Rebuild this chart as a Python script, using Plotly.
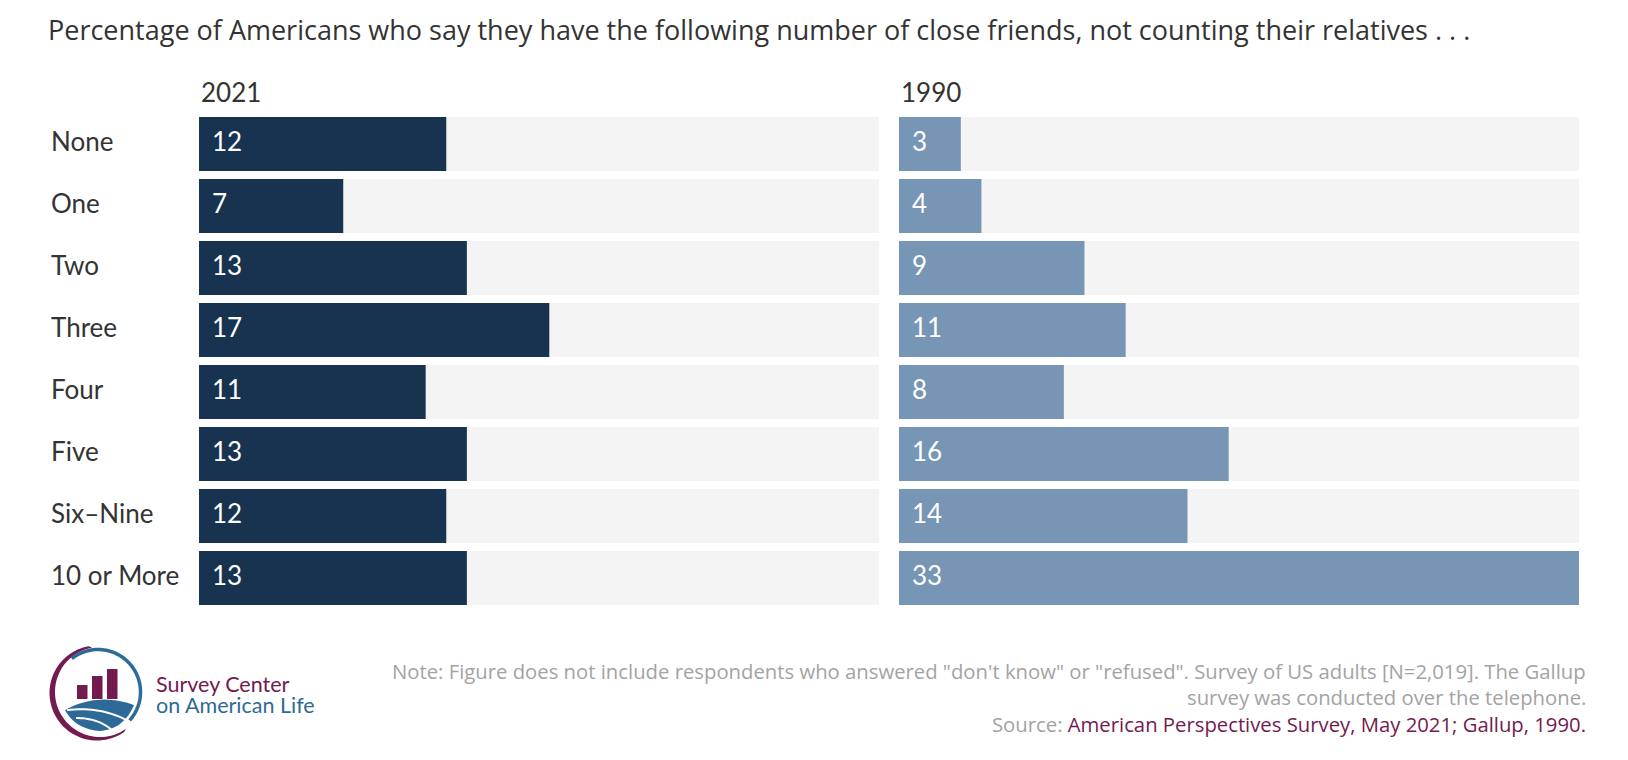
import numpy as np
import plotly.graph_objects as go

# ---------------- data ----------------
categories = ["None", "One", "Two", "Three", "Four", "Five", "Six–Nine", "10 or More"]
values_2021 = [12, 7, 13, 17, 11, 13, 12, 13]
values_1990 = [3, 4, 9, 11, 8, 16, 14, 33]
panel_titles = ["2021", "1990"]

title_text = "Percentage of Americans who say they have the following number of close friends, not counting their relatives . . ."
note_line1 = 'Note: Figure does not include respondents who answered "don\'t know" or "refused". Survey of US adults [N=2,019]. The Gallup'
note_line2 = "survey was conducted over the telephone."
source_label = "Source: "
source_text = "American Perspectives Survey, May 2021; Gallup, 1990."

# ---------------- style ----------------
W, H = 1628, 760
OFF = 8  # default page body margin
FONT = "Lato"
FONT_WIDE = "Open Sans"
DARK = "#17334f"
LIGHT = "#7795b4"
BG = "#f4f4f4"
TXT = "#333333"
NOTE = "#a3a3a3"
MAROON = "#731a4f"
BLUE = "#2e6a97"

def px(x):
    return (x - OFF) / W

def py(y):
    return 1 - (y - OFF) / H

xmax = max(max(values_2021), max(values_1990))

fig = go.Figure()

panels = [
    (values_2021, DARK, "x", "y", (199, 879)),
    (values_1990, LIGHT, "x2", "y2", (899, 1579)),
]

annotations = []
for (vals, col, xa, ya, dom), ptitle in zip(panels, panel_titles):
    fig.add_trace(go.Bar(x=[xmax] * len(categories), y=categories, orientation="h",
                         marker=dict(color=BG, line=dict(width=0)), xaxis=xa, yaxis=ya,
                         hoverinfo="skip", showlegend=False))
    fig.add_trace(go.Bar(x=vals, y=categories, orientation="h",
                         marker=dict(color=col, line=dict(width=0)), xaxis=xa, yaxis=ya,
                         showlegend=False, hovertemplate="%{y}: %{x}<extra></extra>"))
    for c, v in zip(categories, vals):
        annotations.append(dict(x=0, y=c, xref=xa, yref=ya, text=str(v),
                                xanchor="left", yanchor="middle", xshift=11, yshift=3,
                                showarrow=False, font=dict(family=FONT, size=26, color="white")))
    annotations.append(dict(x=px(dom[0]), y=py(92), xref="paper", yref="paper", text=ptitle,
                            xanchor="left", yanchor="middle", showarrow=False,
                            font=dict(family=FONT, size=26, color=TXT)))

# category labels
for c in categories:
    annotations.append(dict(x=px(49), y=c, xref="paper", yref="y", text=c,
                            xanchor="left", yanchor="middle", yshift=3, showarrow=False,
                            font=dict(family=FONT, size=26, color=TXT)))

# notes
annotations += [
    dict(x=px(1588), y=py(671), xref="paper", yref="paper", text=note_line1,
         xanchor="right", yanchor="middle", showarrow=False,
         font=dict(family=FONT_WIDE, size=20.3, color=NOTE)),
    dict(x=px(1588), y=py(697), xref="paper", yref="paper", text=note_line2,
         xanchor="right", yanchor="middle", showarrow=False,
         font=dict(family=FONT_WIDE, size=20.3, color=NOTE)),
    dict(x=px(1588), y=py(724), xref="paper", yref="paper",
         text=f"{source_label}<span style='color:{MAROON}'>{source_text}</span>",
         xanchor="right", yanchor="middle", showarrow=False,
         font=dict(family=FONT_WIDE, size=20.3, color=NOTE)),
    # logo text
    dict(x=px(154), y=py(684), xref="paper", yref="paper", text="Survey Center",
         xanchor="left", yanchor="middle", showarrow=False,
         font=dict(family=FONT, size=21.5, color=MAROON)),
    dict(x=px(154), y=py(705), xref="paper", yref="paper", text="on American Life",
         xanchor="left", yanchor="middle", showarrow=False,
         font=dict(family=FONT, size=21.5, color=BLUE)),
]

# ---------------- logo shapes ----------------
def P(x, y):
    return f"{px(x):.5f},{py(y):.5f}"

def arc_pts(cx, cy, r, a0, a1, n=60):
    th = np.radians(np.linspace(a0, a1, n))
    return [(cx + r*np.cos(t), cy - r*np.sin(t)) for t in th]

def poly_path(points, close=True):
    return "M " + " L ".join(P(x, y) for x, y in points) + (" Z" if close else "")

def quad_pts(p0, p1, p2, n=20):
    t = np.linspace(0, 1, n)
    return [((1-s)**2*p0[0] + 2*(1-s)*s*p1[0] + s**2*p2[0],
             (1-s)**2*p0[1] + 2*(1-s)*s*p1[1] + s**2*p2[1]) for s in t]

cx, cy = 97, 693
shapes = []
# maroon crescent (thick on the left, thin at ends)
outer = arc_pts(cx, cy, 47.5, 100, 305)
inner = arc_pts(cx + 3, cy - 1, 45, 305, 100)
shapes.append(dict(type="path", xref="paper", yref="paper", path=poly_path(outer + inner),
                   fillcolor=MAROON, line=dict(width=0)))
# blue ring
shapes.append(dict(type="path", xref="paper", yref="paper",
                   path=poly_path(arc_pts(cx + 1, cy - 1, 42.5, -42, 128), close=False),
                   line=dict(color=BLUE, width=3.5)))
# bars
for (x0, x1, yt) in [(77, 87.5, 685), (92, 102.5, 676), (107, 117.5, 669)]:
    shapes.append(dict(type="rect", xref="paper", yref="paper", x0=px(x0), x1=px(x1),
                       y0=py(699), y1=py(yt), fillcolor=MAROON, line=dict(width=0)))
# dome
dome = quad_pts((65, 710), (98, 692), (134, 705)) + quad_pts((134, 705), (124, 729), (100, 731)) + \
       quad_pts((100, 731), (75, 729), (65, 710))
shapes.append(dict(type="path", xref="paper", yref="paper", path=poly_path(dome),
                   fillcolor=BLUE, line=dict(width=0)))
for p in [((67, 710), (102, 706), (130, 722)), ((76, 718), (100, 718), (114, 732))]:
    shapes.append(dict(type="path", xref="paper", yref="paper",
                       path=poly_path(quad_pts(*p), close=False),
                       line=dict(color="white", width=2)))

ydom = [py(609), py(113)]
common_x = dict(range=[0, xmax], showgrid=False, zeroline=False, showticklabels=False,
                showline=False, ticks="", fixedrange=True)
common_y = dict(showgrid=False, zeroline=False, showticklabels=False, showline=False,
                ticks="", autorange="reversed", categoryorder="array",
                categoryarray=categories, domain=ydom, fixedrange=True)

fig.update_layout(
    width=W, height=H,
    margin=dict(l=0, r=0, t=0, b=0),
    paper_bgcolor="white", plot_bgcolor="white",
    barmode="overlay", bargap=8 / 62,
    title=dict(text=title_text, x=px(48), xanchor="left", y=py(31), yanchor="middle",
               font=dict(family=FONT_WIDE, size=27, color=TXT)),
    xaxis=dict(domain=[px(199), px(879)], anchor="y", **common_x),
    xaxis2=dict(domain=[px(899), px(1579)], anchor="y2", **common_x),
    yaxis=dict(anchor="x", **common_y),
    yaxis2=dict(anchor="x2", **common_y),
    annotations=annotations,
    shapes=shapes,
    font=dict(family=FONT),
)

fig.write_html("out.html")
